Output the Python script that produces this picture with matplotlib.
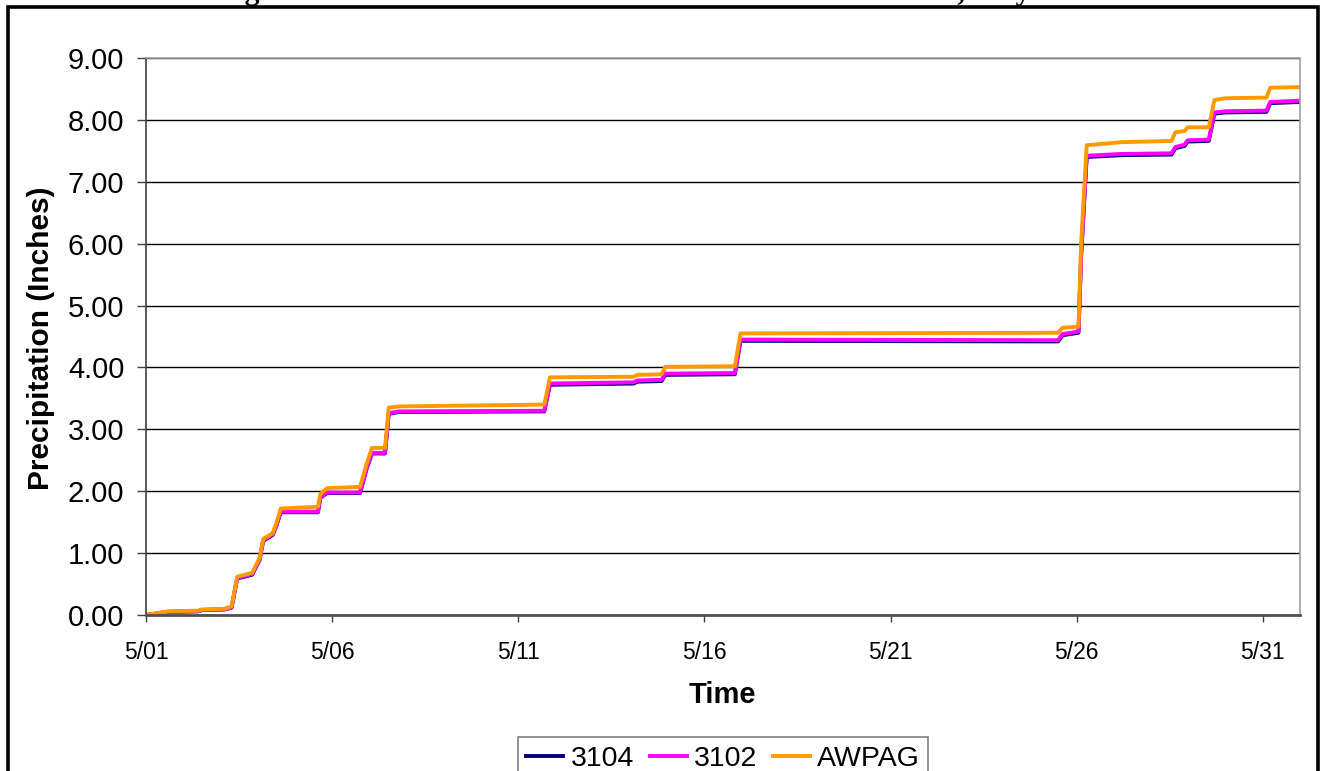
import matplotlib
matplotlib.use("Agg")
import matplotlib.pyplot as plt
from matplotlib.patches import Rectangle

# ---- data (days since 5/01 00:00, cumulative inches) ----
days = [0.0, 0.6, 1.4, 1.5, 2.1, 2.3, 2.45, 2.85, 3.05, 3.15, 3.4, 3.5, 3.62,
        4.62, 4.68, 4.86, 5.75, 5.93, 6.07, 6.42, 6.52, 6.8, 10.7, 10.85,
        13.1, 13.2, 13.85, 13.95, 15.82, 15.97, 24.5, 24.62, 25.05, 25.12,
        25.27, 26.2, 27.55, 27.65, 27.9, 27.98, 28.55, 28.7, 29.0, 30.1,
        30.2, 31.0]
awpag = [0.0, 0.06, 0.07, 0.09, 0.10, 0.14, 0.62, 0.68, 0.92, 1.23, 1.32, 1.48,
         1.72, 1.75, 1.95, 2.05, 2.07, 2.45, 2.70, 2.70, 3.35, 3.37, 3.40, 3.84,
         3.85, 3.88, 3.89, 4.01, 4.02, 4.55, 4.56, 4.64, 4.66, 6.00, 7.59, 7.64,
         7.66, 7.80, 7.82, 7.88, 7.88, 8.32, 8.35, 8.36, 8.52, 8.53]
s3102 = [0.0, 0.05, 0.06, 0.08, 0.09, 0.12, 0.60, 0.66, 0.90, 1.21, 1.30, 1.45,
         1.67, 1.67, 1.90, 1.98, 1.98, 2.38, 2.62, 2.62, 3.26, 3.29, 3.30, 3.74,
         3.76, 3.79, 3.80, 3.90, 3.91, 4.45, 4.44, 4.54, 4.58, 5.80, 7.42, 7.45,
         7.46, 7.56, 7.60, 7.67, 7.68, 8.12, 8.14, 8.15, 8.29, 8.31]
s3104 = [0.0, 0.05, 0.06, 0.08, 0.09, 0.12, 0.59, 0.65, 0.89, 1.20, 1.29, 1.44,
         1.66, 1.66, 1.89, 1.97, 1.97, 2.37, 2.61, 2.61, 3.25, 3.28, 3.29, 3.72,
         3.74, 3.77, 3.78, 3.88, 3.89, 4.43, 4.42, 4.52, 4.56, 5.80, 7.40, 7.43,
         7.44, 7.54, 7.58, 7.65, 7.66, 8.10, 8.12, 8.13, 8.27, 8.29]
series_names = ["3104", "3102", "AWPAG"]
series_colors = ["#000080", "#FF00FF", "#FF9900"]
xtick_pos = [0, 5, 10, 15, 20, 25, 30]
xtick_labels = ["5/01", "5/06", "5/11", "5/16", "5/21", "5/26", "5/31"]
yticks = [0, 1, 2, 3, 4, 5, 6, 7, 8, 9]
title_text = "Figure 4. Cumulative Rainfall Totals at the Three Stations, May 2006"

W, H = 1323, 771
fig = plt.figure(figsize=(W / 100, H / 100), dpi=100)
plt.rcParams['font.family'] = ['Liberation Sans', 'DejaVu Sans']

# outer chart border (extends past bottom of image)
fig.patches.append(Rectangle((7.5 / W, -0.05), (1317.5 - 7.5) / W, 1.05 - 7.5 / H,
                             transform=fig.transFigure, fill=False,
                             edgecolor="black", linewidth=2.6))
# cut-off title (only descenders visible)
fig.text(218 / W, 1.0, title_text, ha="left", va="baseline",
         family="Liberation Serif", fontweight="bold", fontsize=21.5)

ax = fig.add_axes([146 / W, (H - 615) / H, (1300 - 146) / W, (615 - 58) / H])
for vals, name, col in zip([s3104, s3102, awpag], series_names, series_colors):
    ax.plot(days, vals, color=col, linewidth=2.8, label=name)

ax.set_xlim(0, 31)
ax.set_ylim(0, 9)
ax.set_yticks(yticks)
ax.set_yticklabels([f"{v:.2f}" for v in yticks], fontsize=21)
ax.set_xticks(xtick_pos)
ax.set_xticklabels(xtick_labels, fontsize=16.5)
ax.yaxis.grid(True, color="black", linewidth=1.0)
ax.set_axisbelow(True)
ax.tick_params(axis="both", direction="out", width=1, color="#404040")
ax.tick_params(axis="x", length=5, pad=14)
ax.tick_params(axis="y", length=6.5, pad=9)
for side in ["top", "right"]:
    ax.spines[side].set_color("#a0a0a0")
    ax.spines[side].set_linewidth(1.2)
ax.spines["left"].set_color("#404040")
ax.spines["left"].set_linewidth(1.2)
ax.spines["bottom"].set_color("#505050")
ax.spines["bottom"].set_linewidth(2.0)

fig.text(41 / W, 1 - 338 / H, "Precipitation (Inches)", rotation=90, ha="center",
         va="center", fontsize=21.5, fontweight="bold")
fig.text(722 / W, 1 - 695 / H, "Time", ha="center", va="center", fontsize=21,
         fontweight="bold")

leg = fig.legend(loc="upper center", bbox_to_anchor=(723 / W, 1 - 737 / H), ncol=3,
                 fontsize=20.5, frameon=True, fancybox=False, handlelength=1.3,
                 handletextpad=0.25, columnspacing=0.55, borderpad=0.3,
                 borderaxespad=0)
leg.get_frame().set_edgecolor("#606060")
leg.get_frame().set_linewidth(1.2)

fig.savefig("out.png", dpi=100)
